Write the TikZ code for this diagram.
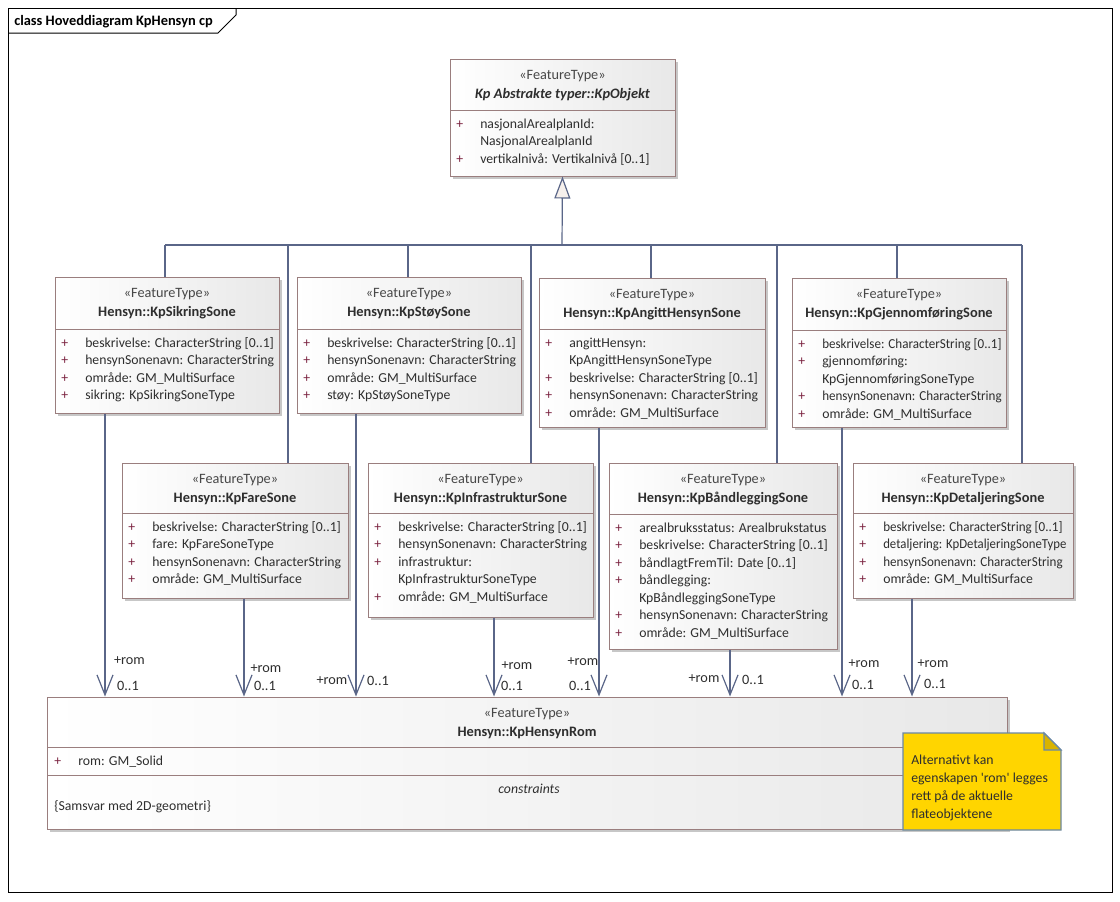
\documentclass[tikz,border=0pt]{standalone}
\usepackage{fontspec}
\setmainfont{Carlito}
\usetikzlibrary{fit,shadows,arrows.meta}
\definecolor{boxc}{HTML}{9A7E7E}
\definecolor{linec}{HTML}{5A6688}
\definecolor{plusc}{HTML}{7B2340}
\definecolor{txtc}{HTML}{2E2E2E}
\definecolor{stc}{HTML}{474747}
\definecolor{notec}{HTML}{FFD500}
\definecolor{notefold}{HTML}{D9B300}
\definecolor{notebd}{HTML}{6A88A6}
\definecolor{trifill}{HTML}{F6F0EC}
\tikzset{
  classbox/.style={draw=boxc, line width=0.75pt, left color=white, right color=black!9, inner sep=0pt,
    drop shadow={shadow xshift=2.5pt, shadow yshift=-2.5pt, fill=black!22, opacity=1}},
  sepline/.style={draw=boxc, line width=0.75pt},
  basefont/.style={font=\fontsize{10.3}{13}\selectfont, inner sep=0pt},
  stereo/.style={font=\fontsize{10.7}{13}\selectfont, inner sep=0pt, text=stc},
  titlef/.style={font=\fontsize{10.8}{13}\selectfont\bfseries, inner sep=0pt, text=txtc},
  attr/.style={basefont, text=txtc},
  plus/.style={basefont, text=plusc},
  lbl/.style={font=\fontsize{10.7}{13}\selectfont, inner sep=0pt, text=txtc},
  gen/.style={draw=linec, line width=0.9pt},
  assoc/.style={draw=linec, line width=0.9pt, -{Straight Barb[length=15pt,width=12pt]}},
}
\newcommand\sqz[1]{\scalebox{0.95}[1]{#1}}
\newcommand\umlclass[8]{%
  \node[classbox, fit={(#2,#3) (#4,#5)}] (#1) {};
  \draw[sepline] (#2,#6) -- (#4,#6);
  \node[stereo, anchor=base] (#1-st) at ({(#2+#4)/2},#3+20.5) {«FeatureType»};
  \node[titlef, anchor=base] (#1-ti) at ({(#2+#4)/2},#3+39) {#7};
  \foreach \k/\t [count=\i] in {#8} {
    \pgfmathsetmacro\yy{#6+18+(\i-1)*17.5}
    \if\k p\node[plus, anchor=base west] (#1-p\i) at (#2+6,\yy) {+};\fi
    \node[attr, anchor=base west] (#1-a\i) at (#2+30,\yy) {\t};
  }%
}
\begin{document}
\begin{tikzpicture}[x=0.75pt,y=-0.75pt]
\useasboundingbox (0,0) rectangle (1120,901);
\fill[white] (0,0) rectangle (1120,901);
% frame
\draw[black, line width=0.75pt] (8,8) rectangle (1112,892);
\draw[black, line width=0.75pt] (8,33) -- (218,33) -- (236,15) -- (236,8);
\node[font=\fontsize{10.8}{13}\selectfont\bfseries, inner sep=0pt, anchor=base west] (frametitle) at (14,25.5) {class Hoveddiagram KpHensyn cp};

% classes
\umlclass{kpobj}{450}{59}{675}{176}{110}{\itshape Kp Abstrakte typer::KpObjekt}{p/{nasjonalArealplanId:}, c/{NasjonalArealplanId}, p/{vertikalnivå: Vertikalnivå [0..1]}}
\umlclass{sik}{55}{277}{279}{413}{329}{Hensyn::KpSikringSone}{p/{beskrivelse: CharacterString [0..1]}, p/{hensynSonenavn: CharacterString}, p/{område: GM\_MultiSurface}, p/{sikring: KpSikringSoneType}}
\umlclass{stoy}{297}{277}{521}{413}{329}{Hensyn::KpStøySone}{p/{beskrivelse: CharacterString [0..1]}, p/{hensynSonenavn: CharacterString}, p/{område: GM\_MultiSurface}, p/{støy: KpStøySoneType}}
\umlclass{angitt}{539}{278}{765}{427}{329}{Hensyn::KpAngittHensynSone}{p/{angittHensyn:}, c/{KpAngittHensynSoneType}, p/{beskrivelse: CharacterString [0..1]}, p/{hensynSonenavn: CharacterString}, p/{område: GM\_MultiSurface}}
\umlclass{gjen}{792}{278}{1006}{427}{330}{Hensyn::KpGjennomføringSone}{p/{\sqz{beskrivelse: CharacterString [0..1]}}, p/{gjennomføring:}, c/{KpGjennomføringSoneType}, p/{\sqz{hensynSonenavn: CharacterString}}, p/{område: GM\_MultiSurface}}
\umlclass{fare}{122}{463}{348}{598}{513}{Hensyn::KpFareSone}{p/{beskrivelse: CharacterString [0..1]}, p/{fare: KpFareSoneType}, p/{hensynSonenavn: CharacterString}, p/{område: GM\_MultiSurface}}
\umlclass{infra}{368}{463}{593}{617}{513}{Hensyn::KpInfrastrukturSone}{p/{beskrivelse: CharacterString [0..1]}, p/{hensynSonenavn: CharacterString}, p/{infrastruktur:}, c/{KpInfrastrukturSoneType}, p/{område: GM\_MultiSurface}}
\umlclass{band}{609}{463}{837}{649}{514}{Hensyn::KpBåndleggingSone}{p/{arealbruksstatus: Arealbrukstatus}, p/{beskrivelse: CharacterString [0..1]}, p/{båndlagtFremTil: Date [0..1]}, p/{båndlegging:}, c/{KpBåndleggingSoneType}, p/{hensynSonenavn: CharacterString}, p/{område: GM\_MultiSurface}}
\umlclass{detal}{853}{463}{1073}{598}{513}{Hensyn::KpDetaljeringSone}{p/{\sqz{beskrivelse: CharacterString [0..1]}}, p/{\scalebox{0.93}[1]{detaljering: KpDetaljeringSoneType}}, p/{\sqz{hensynSonenavn: CharacterString}}, p/{område: GM\_MultiSurface}}

% KpHensynRom
\node[classbox, fit={(47,697) (1007,829)}] (rom) {};
\draw[sepline] (47,747) -- (1007,747);
\draw[sepline] (47,775) -- (1007,775);
\node[stereo, anchor=base] (rom-st) at (527,717.5) {«FeatureType»};
\node[titlef, anchor=base] (rom-ti) at (527,736) {Hensyn::KpHensynRom};
\node[plus, anchor=base west] (rom-p1) at (54,765) {+};
\node[attr, anchor=base west] (rom-a1) at (78,765) {rom: GM\_Solid};
\node[attr, anchor=base, font=\fontsize{10.3}{13}\selectfont\itshape] (rom-c) at (529,793) {constraints};
\node[attr, anchor=base west] (rom-c1) at (54,810) {\{Samsvar med 2D-geometri\}};

% generalization tree
\coordinate (bus) at (562,245);
\coordinate (b1) at (165,245);
\coordinate (b2) at (288,245);
\coordinate (b3) at (408,245);
\coordinate (b4) at (531,245);
\coordinate (b5) at (651,245);
\coordinate (b6) at (777,245);
\coordinate (b7) at (897,245);
\coordinate (b8) at (1022,245);
\draw[gen] (b1) -- (b8);
\draw[gen] (b1) -- (sik.north -| b1);
\draw[gen] (b2) -- (fare.north -| b2);
\draw[gen] (b3) -- (stoy.north -| b3);
\draw[gen] (b4) -- (infra.north -| b4);
\draw[gen] (b5) -- (angitt.north -| b5);
\draw[gen] (b6) -- (band.north -| b6);
\draw[gen] (b7) -- (gjen.north -| b7);
\draw[gen] (b8) -- (detal.north -| b8);
\draw[gen, -{Triangle[length=16.5pt,width=12pt,fill=trifill]}] (bus) -- (kpobj.south);

% associations
\coordinate (a1) at (105,0);
\coordinate (a2) at (244,0);
\coordinate (a3) at (356,0);
\coordinate (a4) at (494,0);
\coordinate (a5) at (599,0);
\coordinate (a6) at (730,0);
\coordinate (a7) at (842,0);
\coordinate (a8) at (912,0);
\draw[assoc] (sik.south -| a1) -- (rom.north -| a1);
\draw[assoc] (fare.south -| a2) -- (rom.north -| a2);
\draw[assoc] (stoy.south -| a3) -- (rom.north -| a3);
\draw[assoc] (infra.south -| a4) -- (rom.north -| a4);
\draw[assoc] (angitt.south -| a5) -- (rom.north -| a5);
\draw[assoc] (band.south -| a6) -- (rom.north -| a6);
\draw[assoc] (gjen.south -| a7) -- (rom.north -| a7);
\draw[assoc] (detal.south -| a8) -- (rom.north -| a8);

\node[lbl] (r1) at (129.5,661) {+rom};   \node[lbl] (m1) at (128,686) {0..1};
\node[lbl] (r2) at (266,669) {+rom};     \node[lbl] (m2) at (265,686) {0..1};
\node[lbl] (r3) at (332,681) {+rom};     \node[lbl] (m3) at (378,681) {0..1};
\node[lbl] (r4) at (517,666) {+rom};     \node[lbl] (m4) at (512,686) {0..1};
\node[lbl] (r5) at (583,662) {+rom};     \node[lbl] (m5) at (580,686) {0..1};
\node[lbl] (r6) at (704,679) {+rom};     \node[lbl] (m6) at (753,680) {0..1};
\node[lbl] (r7) at (864,664) {+rom};     \node[lbl] (m7) at (863,685) {0..1};
\node[lbl] (r8) at (933,664) {+rom};     \node[lbl] (m8) at (935,684) {0..1};

% note
\draw[fill=notec, draw=notebd, line width=0.9pt] (903,733) -- (1044,733) -- (1061,750) -- (1061,830) -- (903,830) -- cycle;
\draw[fill=notefold, draw=notebd, line width=0.9pt] (1044,733) -- (1044,750) -- (1061,750) -- cycle;
\node[attr, anchor=north west, align=left, font=\fontsize{10.3}{13.6}\selectfont] (note) at (911,754.5) {Alternativt kan\\egenskapen \textquotesingle rom\textquotesingle\ legges\\rett på de aktuelle\\flateobjektene};
\end{tikzpicture}
\end{document}
